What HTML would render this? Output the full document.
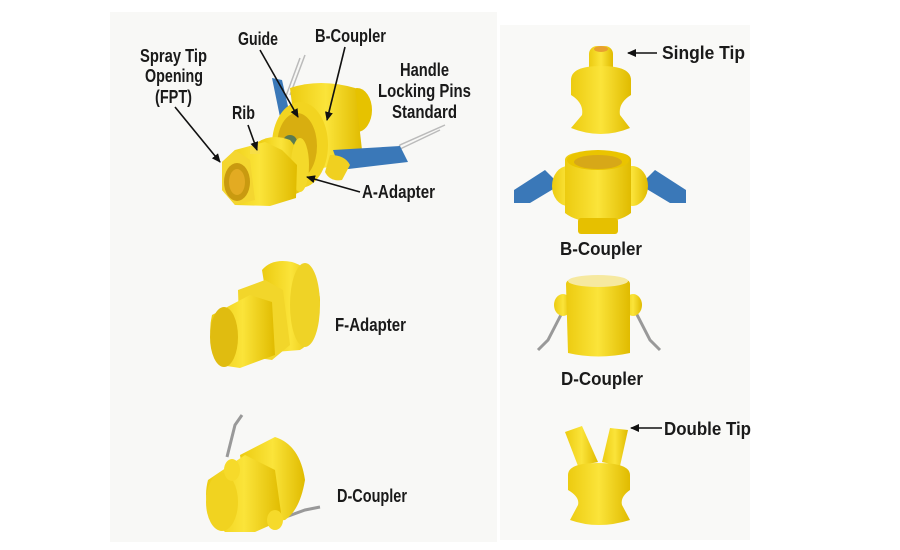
<!DOCTYPE html>
<html><head><meta charset="utf-8"><style>
html,body{margin:0;padding:0;background:#fff;}
svg{display:block}
text{font-family:"Liberation Sans","DejaVu Sans",sans-serif;font-weight:bold;fill:#1a1a1a;font-size:18px}
</style></head><body>
<svg width="900" height="550" viewBox="0 0 900 550" xmlns="http://www.w3.org/2000/svg">
<defs>
<marker id="ah" markerWidth="9" markerHeight="8" refX="8" refY="4" orient="auto" markerUnits="userSpaceOnUse"><path d="M0,0 L9,4 L0,8 z" fill="#111"/></marker>
<linearGradient id="y" x1="0" x2="1"><stop offset="0" stop-color="#eccb10"/><stop offset="0.5" stop-color="#fbe43a"/><stop offset="1" stop-color="#e0bb00"/></linearGradient>
</defs>
<rect x="0" y="0" width="900" height="550" fill="#fff"/>
<rect x="110" y="12" width="387" height="530" fill="#f8f8f6"/>
<rect x="500" y="25" width="250" height="515" fill="#f9f9f7"/>

<!-- main assembly -->
<path d="M305,55 L290,95 M300,58 L286,96" stroke="#bbb" stroke-width="1.5" fill="none"/>
<path d="M272,78 L282,80 L290,115 L280,117 z" fill="#3a78b8"/>
<path d="M445,125 L400,145 L395,155 M440,130 L398,150" stroke="#bbb" stroke-width="1.5" fill="none"/>
<ellipse cx="357" cy="110" rx="15" ry="22" fill="#e6c200"/>
<path d="M290,88 Q320,78 355,88 L362,150 Q340,170 300,170 z" fill="url(#y)"/>
<path d="M333,150 L400,146 L408,162 L340,170 z" fill="#3a78b8"/>
<ellipse cx="300" cy="145" rx="28" ry="43" fill="#f2d420"/>
<ellipse cx="297" cy="146" rx="20" ry="33" fill="#d8ae10"/>
<ellipse cx="290" cy="142" rx="7" ry="7" fill="#5a7a50"/>
<path d="M330,155 Q345,155 350,165 L342,180 Q330,182 325,172 z" fill="#f0d020"/>
<path d="M258,142 Q272,133 290,140 Q312,165 300,192 Q285,200 265,196 z" fill="url(#y)"/>
<ellipse cx="300" cy="165" rx="9" ry="27" fill="#f4d92a"/>
<path d="M235,150 L265,142 L282,150 L297,165 L296,198 L270,206 L235,205 L222,190 L222,162 z" fill="url(#y)"/>
<path d="M222,162 L235,150 L250,160 L255,200 L235,205 L222,190 z" fill="#f4d630"/>
<ellipse cx="237" cy="182" rx="13" ry="19" fill="#c99a10"/>
<ellipse cx="237" cy="182" rx="8" ry="13" fill="#e3ab22"/>
<rect x="250" y="146" width="10" height="8" fill="#f7de48"/>

<!-- single tip -->
<rect x="589" y="46" width="24" height="30" rx="8" fill="url(#y)"/>
<ellipse cx="601" cy="49" rx="7" ry="3" fill="#e8a030"/>
<path d="M571,80 Q571,66 601,66 Q631,66 631,80 L631,95 Q618,103 620,115 L630,128 Q601,140 571,128 L582,115 Q584,103 571,95 z" fill="url(#y)"/>

<!-- B coupler right -->
<path d="M514,190 L545,170 L560,185 L530,203 L514,203 z" fill="#3a78b8"/>
<path d="M686,190 L655,170 L640,185 L670,203 L686,203 z" fill="#3a78b8"/>
<ellipse cx="568" cy="186" rx="16" ry="20" fill="url(#y)"/>
<ellipse cx="632" cy="186" rx="16" ry="20" fill="url(#y)"/>
<path d="M565,160 Q565,151 598,151 Q631,151 631,160 L631,213 Q620,222 598,222 Q576,222 565,213 z" fill="url(#y)"/>
<ellipse cx="598" cy="160" rx="31" ry="10" fill="#eac400"/>
<ellipse cx="598" cy="162" rx="24" ry="7" fill="#d7a818"/>
<rect x="578" y="218" width="40" height="16" rx="3" fill="#e6c000"/>

<!-- F adapter -->
<path d="M262,270 Q272,258 292,262 Q318,270 320,300 Q318,340 300,350 L275,352 z" fill="url(#y)"/>
<ellipse cx="305" cy="305" rx="15" ry="42" fill="#efd326"/>
<path d="M238,290 L265,280 L283,290 L290,345 L272,360 L240,355 z" fill="#f2d62a"/>
<path d="M212,315 L250,295 L272,302 L275,355 L240,368 L220,365 Q206,340 212,315 z" fill="url(#y)"/>
<ellipse cx="224" cy="337" rx="14" ry="30" fill="#e0bc10"/>

<!-- D coupler right -->
<path d="M566,305 L548,340 L538,350" stroke="#999" stroke-width="3" fill="none"/>
<path d="M632,305 L650,340 L660,350" stroke="#999" stroke-width="3" fill="none"/>
<ellipse cx="563" cy="305" rx="9" ry="11" fill="url(#y)"/>
<ellipse cx="633" cy="305" rx="9" ry="11" fill="url(#y)"/>
<path d="M566,284 Q566,276 598,276 Q630,276 630,284 L630,353 Q598,360 568,353 z" fill="url(#y)"/>
<ellipse cx="598" cy="281" rx="30" ry="6" fill="#f6e9a0"/>

<!-- double tip -->
<path d="M578,466 L565,432 L582,426 L598,462 z" fill="url(#y)"/>
<path d="M602,462 L610,428 L628,430 L620,466 z" fill="url(#y)"/>
<path d="M568,475 Q568,463 598,463 Q630,463 630,475 L630,490 Q620,497 622,505 L630,520 Q598,530 570,520 L578,505 Q580,497 568,490 z" fill="url(#y)"/>

<!-- D coupler bottom -->
<path d="M227,457 L235,425 L242,415" stroke="#999" stroke-width="3" fill="none"/>
<path d="M283,518 L305,510 L320,507" stroke="#999" stroke-width="3" fill="none"/>
<path d="M240,455 L275,437 Q300,445 305,480 Q300,510 285,520 L250,525 z" fill="url(#y)"/>
<path d="M208,480 L245,455 L275,470 L282,520 L255,532 L225,532 Q200,510 208,480 z" fill="url(#y)"/>
<ellipse cx="222" cy="502" rx="16" ry="29" fill="#f1d320"/>
<ellipse cx="232" cy="470" rx="8" ry="11" fill="#f6da2a"/>
<ellipse cx="275" cy="520" rx="8" ry="10" fill="#f6da2a"/>

<!-- labels -->
<text x="140" y="62" textLength="67" lengthAdjust="spacingAndGlyphs">Spray Tip</text>
<text x="145" y="82" textLength="58" lengthAdjust="spacingAndGlyphs">Opening</text>
<text x="155" y="103" textLength="37" lengthAdjust="spacingAndGlyphs">(FPT)</text>
<text x="238" y="45" textLength="40" lengthAdjust="spacingAndGlyphs">Guide</text>
<text x="315" y="42" textLength="71" lengthAdjust="spacingAndGlyphs">B-Coupler</text>
<text x="400" y="76" textLength="49" lengthAdjust="spacingAndGlyphs">Handle</text>
<text x="378" y="97" textLength="93" lengthAdjust="spacingAndGlyphs">Locking Pins</text>
<text x="392" y="118" textLength="65" lengthAdjust="spacingAndGlyphs">Standard</text>
<text x="232" y="119" textLength="23" lengthAdjust="spacingAndGlyphs">Rib</text>
<text x="362" y="198" textLength="73" lengthAdjust="spacingAndGlyphs">A-Adapter</text>
<text x="662" y="59" textLength="83" lengthAdjust="spacingAndGlyphs">Single Tip</text>
<text x="560" y="255" textLength="82" lengthAdjust="spacingAndGlyphs">B-Coupler</text>
<text x="335" y="331" textLength="71" lengthAdjust="spacingAndGlyphs">F-Adapter</text>
<text x="561" y="385" textLength="82" lengthAdjust="spacingAndGlyphs">D-Coupler</text>
<text x="664" y="435" textLength="87" lengthAdjust="spacingAndGlyphs">Double Tip</text>
<text x="337" y="502" textLength="70" lengthAdjust="spacingAndGlyphs">D-Coupler</text>

<!-- arrows -->
<g stroke="#111" stroke-width="1.6" fill="none" marker-end="url(#ah)">
<line x1="175" y1="107" x2="220" y2="162"/>
<line x1="260" y1="50" x2="298" y2="117"/>
<line x1="345" y1="47" x2="327" y2="120"/>
<line x1="248" y1="125" x2="257" y2="150"/>
<line x1="360" y1="192" x2="307" y2="177"/>
<line x1="657" y1="53" x2="628" y2="53"/>
<line x1="662" y1="428" x2="631" y2="428"/>
</g>
</svg>
</body></html>
